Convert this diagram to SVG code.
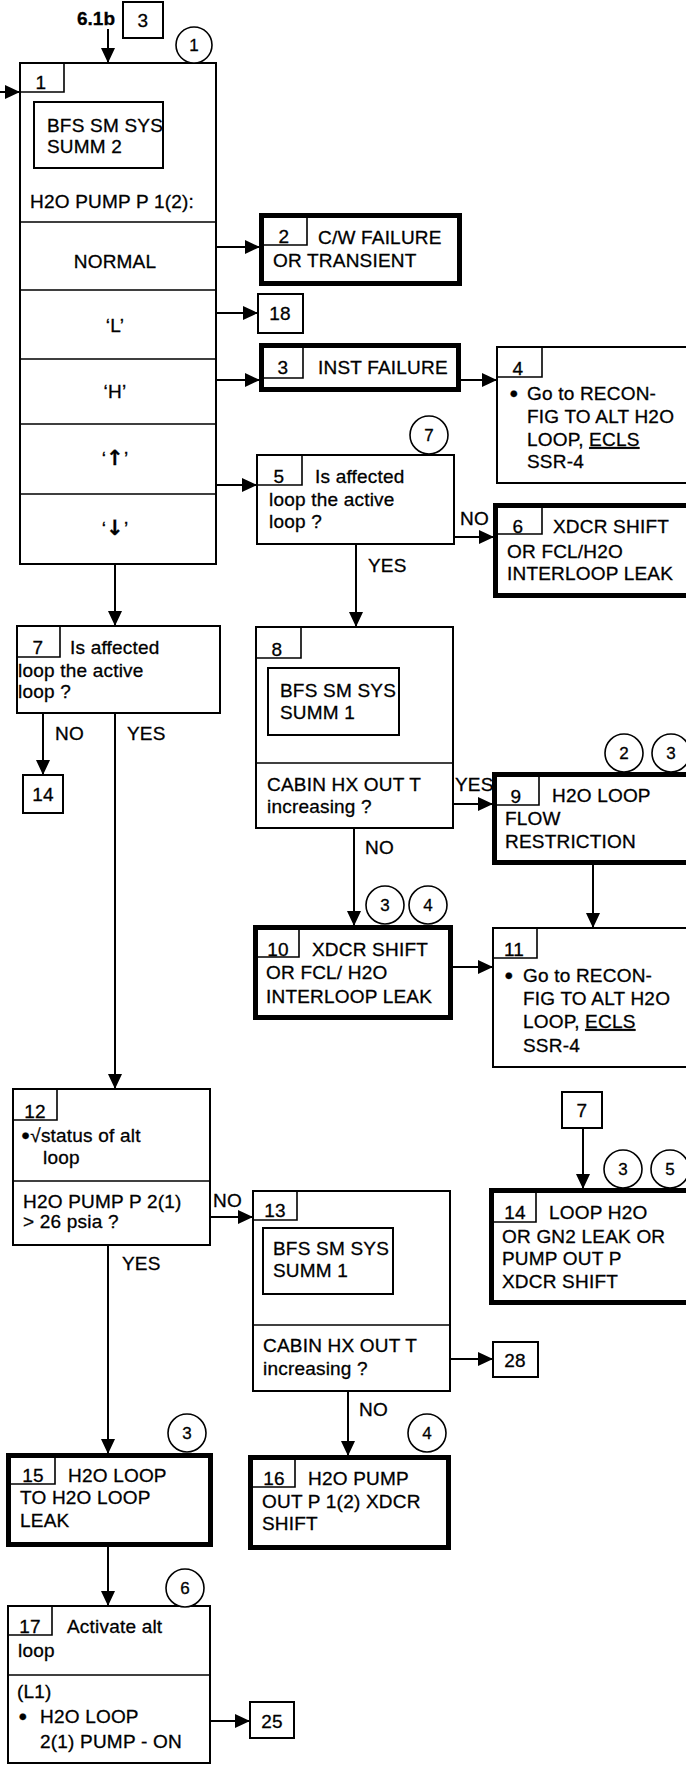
<svg xmlns="http://www.w3.org/2000/svg" width="686" height="1767" viewBox="0 0 686 1767">
<style>
text{font-family:"Liberation Sans",Arial,sans-serif;font-size:19px;letter-spacing:0.2px;fill:#000;stroke:#000;stroke-width:0.3}
.m{text-anchor:middle}
.b{fill:#fff;stroke:#000;stroke-width:2}
.k{fill:#fff;stroke:#000;stroke-width:5}
.n{fill:none;stroke:#000;stroke-width:1.6}
.c{fill:#fff;stroke:#000;stroke-width:1.6}
.cn{font-size:17px;text-anchor:middle}
.l{fill:none;stroke:#000;stroke-width:2;marker-end:url(#a)}
.u{text-decoration:underline}
.d{font-size:15px}
.ar{font-family:"DejaVu Sans",sans-serif;font-size:21px;font-weight:bold}
</style>
<defs>
<marker id="a" markerUnits="userSpaceOnUse" markerWidth="16" markerHeight="16" refX="15" refY="7" orient="auto">
<path d="M0,0 L15,7 L0,14 Z" fill="#000"/>
</marker>
</defs>
<rect width="686" height="1767" fill="#fff"/>

<g id="connectors">
<path class="l" d="M108,29 V63"/>
<path class="l" d="M0,92 H20"/>
<path class="l" d="M216,247 H260"/>
<path class="l" d="M216,313 H258"/>
<path class="l" d="M216,380 H260"/>
<path class="l" d="M461,380 H497"/>
<path class="l" d="M216,485 H257"/>
<path class="l" d="M454,537 H494"/>
<path class="l" d="M356,544 V627"/>
<path class="l" d="M115,564 V626"/>
<path class="l" d="M43,713 V775"/>
<path class="l" d="M115,713 V1089"/>
<path class="l" d="M453,804 H493"/>
<path class="l" d="M354,828 V926"/>
<path class="l" d="M593,865 V928"/>
<path class="l" d="M453,967 H493"/>
<path class="l" d="M210,1217 H253"/>
<path class="l" d="M108,1245 V1454"/>
<path class="l" d="M450,1359 H493"/>
<path class="l" d="M348,1391 V1456"/>
<path class="l" d="M583,1128 V1189"/>
<path class="l" d="M108,1547 V1606"/>
<path class="l" d="M210,1721 H250"/>
<text x="460" y="525">NO</text>
<text x="368" y="572">YES</text>
<text x="55" y="740">NO</text>
<text x="127" y="740">YES</text>
<text x="455" y="791">YES</text>
<text x="365" y="854">NO</text>
<text x="213" y="1207">NO</text>
<text x="122" y="1270">YES</text>
<text x="359" y="1416">NO</text>
</g>

<g id="entry">
<text x="77" y="25" style="font-weight:bold;font-size:19px;letter-spacing:0">6.1b</text>
<rect class="b" x="123" y="2" width="40" height="36"/>
<text class="m" x="143" y="27">3</text>
</g>

<g id="node1">
<rect class="b" x="20" y="63" width="196" height="501"/>
<polyline class="n" points="20,92 64,92 64,63"/>
<text class="m" x="41" y="89">1</text>
<rect class="b" x="34" y="102" width="129" height="66"/>
<text x="47" y="132">BFS SM SYS</text>
<text x="47" y="153">SUMM 2</text>
<text x="30" y="208">H2O PUMP P 1(2):</text>
<path class="n" d="M20,222 H216 M20,290 H216 M20,359 H216 M20,424 H216 M20,494 H216"/>
<text class="m" x="115" y="268">NORMAL</text>
<text class="m" x="115" y="332">‘L’</text>
<text class="m" x="115" y="398">‘H’</text>
<text class="m" x="115" y="465">‘<tspan class="ar">↑</tspan>’</text>
<text class="m" x="115" y="535">‘<tspan class="ar">↓</tspan>’</text>
<circle class="c" cx="194" cy="45" r="18"/>
<text class="cn" x="194" y="51">1</text>
</g>

<g id="node2">
<rect class="k" x="261.5" y="215.5" width="198" height="68"/>
<polyline class="n" points="264,245 307,245 307,218"/>
<text class="m" x="284" y="243">2</text>
<text x="318" y="244">C/W FAILURE</text>
<text x="273" y="267">OR TRANSIENT</text>
</g>

<g id="node18">
<rect class="b" x="258" y="294" width="45" height="39"/>
<text class="m" x="280" y="320">18</text>
</g>

<g id="node3">
<rect class="k" x="261.5" y="345.5" width="197" height="44"/>
<polyline class="n" points="264,378 303,378 303,348"/>
<text class="m" x="283" y="374">3</text>
<text x="318" y="374">INST FAILURE</text>
</g>

<g id="node4">
<rect class="b" x="497" y="347" width="220" height="136"/>
<polyline class="n" points="497,377 542,377 542,347"/>
<text class="m" x="518" y="375">4</text>
<text class="m d" x="514" y="398">●</text>
<text x="527" y="400">Go to RECON-</text>
<text x="527" y="423">FIG TO ALT H2O</text>
<text x="527" y="446">LOOP, <tspan class="u">ECLS</tspan></text>
<text x="527" y="468">SSR-4</text>
</g>

<g id="node5">
<rect class="b" x="257" y="455" width="197" height="89"/>
<polyline class="n" points="257,485 302,485 302,455"/>
<text class="m" x="279" y="483">5</text>
<text x="315" y="483">Is affected</text>
<text x="269" y="506">loop the active</text>
<text x="269" y="528">loop ?</text>
<circle class="c" cx="429" cy="435" r="19"/>
<text class="cn" x="429" y="441">7</text>
</g>

<g id="node6">
<rect class="k" x="495.5" y="505.5" width="220" height="90"/>
<polyline class="n" points="498,534 542,534 542,508"/>
<text class="m" x="518" y="533">6</text>
<text x="553" y="533">XDCR SHIFT</text>
<text x="507" y="558">OR FCL/H2O</text>
<text x="507" y="580">INTERLOOP LEAK</text>
</g>

<g id="node7">
<rect class="b" x="17" y="626" width="203" height="87"/>
<polyline class="n" points="17,657 60,657 60,626"/>
<text class="m" x="38" y="654">7</text>
<text x="70" y="654">Is affected</text>
<text x="18" y="677">loop the active</text>
<text x="18" y="698">loop ?</text>
</g>

<g id="ref14">
<rect class="b" x="23" y="775" width="40" height="38"/>
<text class="m" x="43" y="801">14</text>
</g>

<g id="node8">
<rect class="b" x="256" y="627" width="197" height="201"/>
<polyline class="n" points="256,658 301,658 301,627"/>
<text class="m" x="277" y="656">8</text>
<rect class="b" x="268" y="668" width="131" height="67"/>
<text x="280" y="697">BFS SM SYS</text>
<text x="280" y="719">SUMM 1</text>
<path class="n" d="M256,763 H453"/>
<text x="267" y="791">CABIN HX OUT T</text>
<text x="267" y="813">increasing ?</text>
</g>

<g id="node9">
<rect class="k" x="494.5" y="774.5" width="220" height="88"/>
<polyline class="n" points="497,805 539,805 539,777"/>
<text class="m" x="516" y="803">9</text>
<text x="552" y="802">H2O LOOP</text>
<text x="505" y="825">FLOW</text>
<text x="505" y="848">RESTRICTION</text>
<circle class="c" cx="624" cy="753" r="19"/>
<text class="cn" x="624" y="759">2</text>
<circle class="c" cx="671" cy="753" r="19"/>
<text class="cn" x="671" y="759">3</text>
</g>

<g id="node10">
<rect class="k" x="255.5" y="927.5" width="195" height="90"/>
<polyline class="n" points="258,957 299,957 299,930"/>
<text class="m" x="278" y="956">10</text>
<text x="312" y="956">XDCR SHIFT</text>
<text x="266" y="979">OR FCL/ H2O</text>
<text x="266" y="1003">INTERLOOP LEAK</text>
<circle class="c" cx="385" cy="905" r="19"/>
<text class="cn" x="385" y="911">3</text>
<circle class="c" cx="428" cy="905" r="19"/>
<text class="cn" x="428" y="911">4</text>
</g>

<g id="node11">
<rect class="b" x="493" y="928" width="220" height="139"/>
<polyline class="n" points="493,958 537,958 537,928"/>
<text class="m" x="514" y="956">11</text>
<text class="m d" x="509" y="980">●</text>
<text x="523" y="982">Go to RECON-</text>
<text x="523" y="1005">FIG TO ALT H2O</text>
<text x="523" y="1028">LOOP, <tspan class="u">ECLS</tspan></text>
<text x="523" y="1052">SSR-4</text>
</g>

<g id="node12">
<rect class="b" x="13" y="1089" width="197" height="156"/>
<polyline class="n" points="13,1120 57,1120 57,1089"/>
<text class="m" x="35" y="1118">12</text>
<text x="21" y="1142"><tspan class="d" dy="-2">●</tspan><tspan dy="2">√status of alt</tspan></text>
<text x="43" y="1164">loop</text>
<path class="n" d="M13,1181 H210"/>
<text x="23" y="1208">H2O PUMP  P 2(1)</text>
<text x="23" y="1228">&gt; 26 psia ?</text>
</g>

<g id="node13">
<rect class="b" x="253" y="1191" width="197" height="200"/>
<polyline class="n" points="253,1220 297,1220 297,1191"/>
<text class="m" x="275" y="1217">13</text>
<rect class="b" x="263" y="1228" width="130" height="66"/>
<text x="273" y="1255">BFS SM SYS</text>
<text x="273" y="1277">SUMM 1</text>
<path class="n" d="M253,1325 H450"/>
<text x="263" y="1352">CABIN HX OUT T</text>
<text x="263" y="1375">increasing ?</text>
</g>

<g id="ref28">
<rect class="b" x="493" y="1342" width="45" height="35"/>
<text class="m" x="515" y="1367">28</text>
</g>

<g id="ref7">
<rect class="b" x="562" y="1092" width="40" height="36"/>
<text class="m" x="582" y="1117">7</text>
</g>

<g id="node14">
<rect class="k" x="491.5" y="1190.5" width="220" height="112"/>
<polyline class="n" points="494,1222 536,1222 536,1193"/>
<text class="m" x="515" y="1219">14</text>
<text x="549" y="1219">LOOP H2O</text>
<text x="502" y="1243">OR GN2 LEAK OR</text>
<text x="502" y="1265">PUMP OUT P</text>
<text x="502" y="1288">XDCR SHIFT</text>
<circle class="c" cx="623" cy="1169" r="19"/>
<text class="cn" x="623" y="1175">3</text>
<circle class="c" cx="670" cy="1169" r="19"/>
<text class="cn" x="670" y="1175">5</text>
</g>

<g id="node15">
<rect class="k" x="8.5" y="1455.5" width="202" height="89"/>
<polyline class="n" points="11,1484 55,1484 55,1458"/>
<text class="m" x="33" y="1482">15</text>
<text x="68" y="1482">H2O LOOP</text>
<text x="20" y="1504">TO H2O LOOP</text>
<text x="20" y="1527">LEAK</text>
<circle class="c" cx="187" cy="1433" r="19"/>
<text class="cn" x="187" y="1439">3</text>
</g>

<g id="node16">
<rect class="k" x="250.5" y="1457.5" width="198" height="90"/>
<polyline class="n" points="253,1487 295,1487 295,1460"/>
<text class="m" x="274" y="1485">16</text>
<text x="308" y="1485">H2O PUMP</text>
<text x="262" y="1508">OUT P 1(2) XDCR</text>
<text x="262" y="1530">SHIFT</text>
<circle class="c" cx="427" cy="1433" r="19"/>
<text class="cn" x="427" y="1439">4</text>
</g>

<g id="node17">
<rect class="b" x="8" y="1606" width="202" height="157"/>
<polyline class="n" points="8,1635 52,1635 52,1606"/>
<text class="m" x="30" y="1633">17</text>
<text x="67" y="1633">Activate alt</text>
<text x="18" y="1657">loop</text>
<path class="n" d="M8,1675 H210"/>
<text x="17" y="1698">(L1)</text>
<text class="m d" x="23" y="1721">●</text>
<text x="40" y="1723">H2O LOOP</text>
<text x="40" y="1748">2(1) PUMP - ON</text>
<circle class="c" cx="185" cy="1588" r="19"/>
<text class="cn" x="185" y="1594">6</text>
</g>

<g id="ref25">
<rect class="b" x="250" y="1702" width="44" height="36"/>
<text class="m" x="272" y="1728">25</text>
</g>
</svg>
